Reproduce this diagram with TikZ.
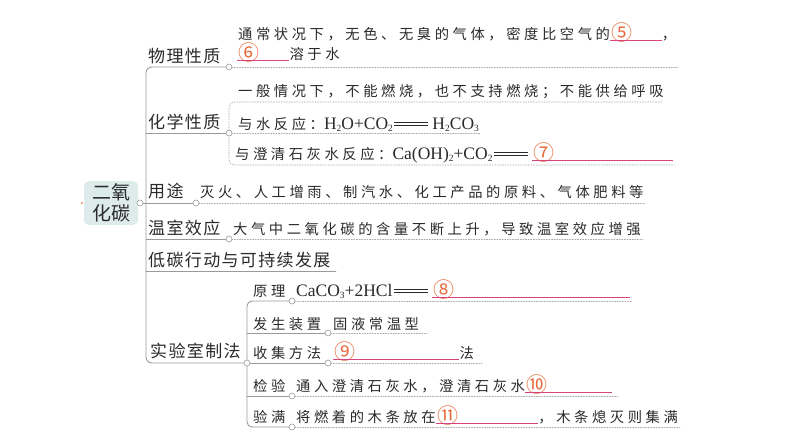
\documentclass[tikz,border=0pt]{standalone}
\usepackage{fontspec}
\setmainfont{Noto Sans CJK SC}
\newfontfamily\lblfont[LetterSpace=8]{Noto Sans CJK SC}
\newfontfamily\subfont[LetterSpace=25]{Noto Sans CJK SC}
\newfontfamily\numfont{Noto Sans CJK SC}
\newfontfamily\chemfont{Liberation Serif}

\definecolor{rootfill}{HTML}{DDECEA}
\definecolor{linegray}{HTML}{9A9A9A}
\definecolor{dotgray}{HTML}{ABABAB}
\definecolor{ulpink}{HTML}{D9437F}
\definecolor{numorange}{HTML}{E86A3C}
\definecolor{txt}{HTML}{2A2A2A}

\newcommand\chsub[1]{\raisebox{-2.5pt}{\fontsize{9.5}{9.5}\selectfont#1}}
\newcommand\chem[1]{{\chemfont\fontsize{17.5}{19}\selectfont#1}}
\newcommand\yields{\kern1.5pt\rlap{\rule[3pt]{34pt}{0.7pt}}\rule[6pt]{34pt}{0.7pt}\kern4pt}
\newcommand\numbox[2]{\makebox[#2][l]{\kern1pt\textcolor{numorange}{\numfont\fontsize{21}{21}\selectfont\raisebox{-1pt}{#1}}}}

\begin{document}
\begin{tikzpicture}[x=1pt, y=-1pt, line cap=round, line join=round,
    lbl/.style={anchor=base west, inner sep=0pt, text=txt, font=\lblfont\fontsize{17}{20}\selectfont},
    subtxt/.style={anchor=base west, inner sep=0pt, text=txt, font=\subfont\fontsize{14.3}{18}\selectfont},
    knob/.style={circle, draw=linegray, fill=white, line width=0.6pt, inner sep=0pt, minimum size=6pt},
    branch/.style={draw=linegray, line width=0.9pt},
    dotline/.style={draw=dotgray, line width=0.6pt, dash pattern=on 1.2pt off 1.4pt},
    blankline/.style={draw=ulpink, line width=1.2pt, line cap=butt},
    rootbox/.style={fill=rootfill, rounded corners=5pt, minimum width=54pt, minimum height=44pt,
      inner sep=0pt, align=center, text=txt, font=\fontsize{19}{21}\selectfont}]
    \useasboundingbox (0,0) rectangle (794,447);

    % Topic
    \node[rootbox] (root) at (111,203) {二氧\\化碳};
    \fill[numorange] ([xshift=-2pt]root.west) circle (1pt);

    % Knob points
    \coordinate (rk) at (140,203);
    \coordinate (trunk) at (146,203);
    \coordinate (kphys) at (229,67);
    \coordinate (kchem) at (229,133);
    \coordinate (cb1) at (229,102);
    \coordinate (cb3) at (229,165);
    \coordinate (kuse) at (196,203);
    \coordinate (kgreen) at (229,239);
    \coordinate (klow) at (336,271);
    \coordinate (klab) at (247,363);
    \coordinate (kyl) at (292,301);
    \coordinate (kfs) at (328,333);
    \coordinate (ksj) at (328,363);
    \coordinate (kjy) at (292,396);
    \coordinate (kym) at (292,427);

    % Branch labels
    \node[lbl] (lphys) at (148,62) {物理性质};
    \node[lbl] (lchem) at (148,128) {化学性质};
    \node[lbl] (luse) at (148,197) {用途};
    \node[lbl] (lgreen) at (148,234) {温室效应};
    \node[lbl] (llow) at (148,266) {低碳行动与可持续发展};
    \node[lbl] (llab) at (150,357) {实验室制法};
    \node[subtxt] (lyl) at (253,296) {原理};
    \node[subtxt] (lfs) at (253,329) {发生装置};
    \node[subtxt] (lsj) at (253,358) {收集方法};
    \node[subtxt] (ljy) at (253,391) {检验};
    \node[subtxt] (lym) at (253,422) {验满};

    % Details, blanks chained on the baseline
    \node[subtxt] (tphys1) at (238,39) {通常状况下，无色、无臭的气体，密度比空气的};
    \node[subtxt] (b5) at (tphys1.base east) {\numbox{⑤}{51pt}};
    \node[subtxt] (tphys1b) at (b5.base east) {，};
    \node[subtxt] (b6) at (237,59) {\numbox{⑥}{52pt}};
    \node[subtxt] (tphys2) at (b6.base east) {溶于水};
    \node[subtxt] (tc1) at (238,96) {一般情况下，不能燃烧，也不支持燃烧；不能供给呼吸};
    \node[subtxt] (tc2) at (238,129) {与水反应：\chem{H\chsub{2}O+CO\chsub{2}}\yields\chem{H\chsub{2}CO\chsub{3}}};
    \node[subtxt] (tc3) at (235,159) {与澄清石灰水反应：\chem{Ca(OH)\chsub{2}+CO\chsub{2}}\yields};
    \node[subtxt] (b7) at (tc3.base east) {\numbox{⑦}{140pt}};
    \node[subtxt] (tuse) at (200,197) {灭火、人工增雨、制汽水、化工产品的原料、气体肥料等};
    \node[subtxt] (tgreen) at (233,234) {大气中二氧化碳的含量不断上升，导致温室效应增强};
    \node[subtxt] (tyl) at (296,296) {\chem{CaCO\chsub{3}+2HCl}\yields};
    \node[subtxt] (b8) at (tyl.base east) {\numbox{⑧}{197pt}};
    \node[subtxt] (tfs) at (333,329) {固液常温型};
    \node[subtxt] (b9) at (333,358) {\numbox{⑨}{126pt}};
    \node[subtxt] (tsj) at (b9.base east) {法};
    \node[subtxt] (tjy) at (296,391) {通入澄清石灰水，澄清石灰水};
    \node[subtxt] (b10) at (tjy.base east) {\numbox{⑩}{86pt}};
    \node[subtxt] (tym) at (296,422) {将燃着的木条放在};
    \node[subtxt] (b11) at (tym.base east) {\numbox{⑪}{102pt}};
    \node[subtxt] (tym2) at (b11.base east) {，木条熄灭则集满};

    % Blank underlines
    \foreach \b in {b5,b6,b7,b8,b9,b10,b11}
        \draw[blankline] ([yshift=-1.8pt]\b.base west) -- ([yshift=-1.8pt]\b.base east);

    % Trunk and branches
    \draw[branch, rounded corners=6pt] (kphys) -- (kphys -| trunk) -- (klab -| trunk) -- (klab);
    \draw[branch] (root.east) -- (kuse);
    \draw[branch] (kchem -| trunk) -- (kchem);
    \draw[branch] (kgreen -| trunk) -- (kgreen);
    \draw[branch] (klow -| trunk) -- (klow);
    \draw[branch, rounded corners=5pt] (kyl) -- (kyl -| klab) -- (kym -| klab) -- (kym);
    \draw[branch] (kfs -| klab) -- (kfs);
    \draw[branch] (klab) -- (ksj);
    \draw[branch] (kjy -| klab) -- (kjy);

    % Dotted underlines
    \draw[dotline] (kphys) -- ([xshift=2pt]kphys -| tphys1b.east);
    \draw[dotline, rounded corners=5pt] ([xshift=-2pt]cb1 -| tc1.east) -- (cb1) -- (cb3) -- ([xshift=2pt]cb3 -| b7.east);
    \draw[dotline] (kchem) -- ([xshift=2pt]kchem -| tc2.east);
    \draw[dotline] (kuse) -- ([xshift=2pt]kuse -| tuse.east);
    \draw[dotline] (kgreen) -- ([xshift=2pt]kgreen -| tgreen.east);
    \draw[dotline] (kyl) -- ([xshift=2pt]kyl -| b8.east);
    \draw[dotline] (kfs) -- ([xshift=8pt]kfs -| tfs.east);
    \draw[dotline] (ksj) -- ([xshift=8pt]ksj -| tsj.east);
    \draw[dotline] (kjy) -- ([xshift=6pt]kjy -| b10.east);
    \draw[dotline] (kym) -- ([xshift=2pt]kym -| tym2.east);

    % Knobs
    \foreach \k in {rk,kphys,kchem,kuse,kgreen,klab,kyl,kfs,ksj,kjy,kym}
        \node[knob] at (\k) {};
\end{tikzpicture}
\end{document}
